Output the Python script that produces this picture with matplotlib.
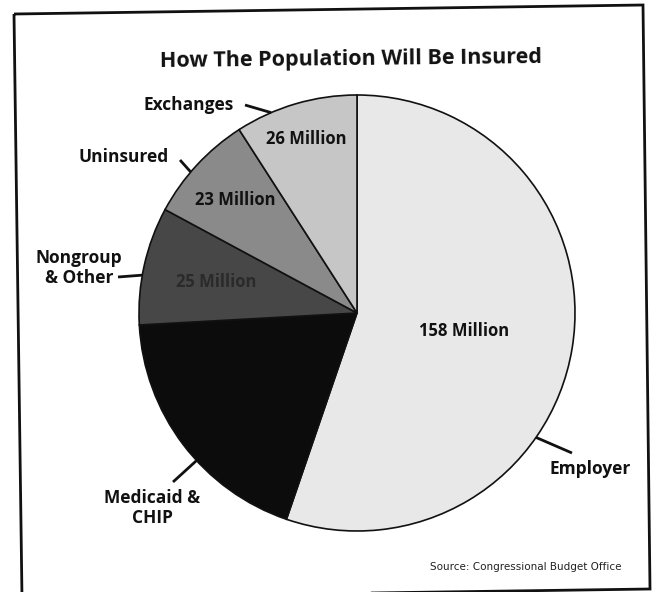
import numpy as np
import matplotlib.pyplot as plt
from matplotlib.patches import Polygon

# CBO coverage projection, millions of people
categories = ["Employer", "Medicaid &\nCHIP", "Nongroup\n& Other", "Uninsured", "Exchanges"]
millions = [158, 54, 25, 23, 26]
value_labels = ["158 Million", "", "25 Million", "23 Million", "26 Million"]
colors = ["#e8e8e8", "#0c0c0c", "#474747", "#8a8a8a", "#c6c6c6"]
text_colors = ["#111111", "#111111", "#2a2a2a", "#111111", "#111111"]

W, H = 652, 592
fig = plt.figure(figsize=(W / 100, H / 100), dpi=100)
ax = fig.add_axes([0, 0, 1, 1])


def top(y):
    # pixel rows are counted from the top
    return H - y


cx, cy, r = 357, top(313), 218
wedges, _ = ax.pie(millions, colors=colors, startangle=90, counterclock=False,
                   center=(cx, cy), radius=r, frame=True,
                   wedgeprops=dict(edgecolor="#111111", linewidth=1.2))
ax.set_xlim(0, W)
ax.set_ylim(0, H)
ax.axis("off")

font = "Open Sans"

# value labels inside the slices
label_dist = [0.50, 0.6, 0.66, 0.76, 0.83]
for w, txt, d, tc in zip(wedges, value_labels, label_dist, text_colors):
    if not txt:
        continue
    mid = np.deg2rad((w.theta1 + w.theta2) / 2)
    ax.text(cx + d * r * np.cos(mid), cy + d * r * np.sin(mid), txt,
            ha="center", va="center", fontsize=12, fontweight="bold",
            family=font, color=tc)

# category names with short leader lines to the rim
rim_angle = [-34.8, -137.4, 170.0, 139.7, 113.2]
text_pos = [(590, 469), (152, 508), (79, 268), (124, 157), (189, 105)]
line_end = [(572, 453), (173, 482), (118, 277), (180, 160), (245, 105)]
for name, a, (tx, ty), (lx, ly) in zip(categories, rim_angle, text_pos, line_end):
    t = np.deg2rad(a)
    ax.plot([cx + r * np.cos(t), lx], [cy + r * np.sin(t), top(ly)],
            color="#111111", lw=2, solid_capstyle="butt")
    ax.text(tx, top(ty), name, ha="center", va="center", fontsize=12.5,
            fontweight="bold", family=font, color="#111111", linespacing=1.1)

ax.text(351, top(60), "How The Population Will Be Insured", ha="center",
        va="center", fontsize=15.5, family=font, fontweight="bold",
        color="#111111", rotation=0.6)
ax.text(526, top(567), "Source: Congressional Budget Office", ha="center",
        va="center", fontsize=7.5, family="DejaVu Sans", color="#222222")

# outer border, slightly skewed
frame = Polygon([(14, top(14)), (643, top(5)), (650, top(589)), (22, top(598))],
                closed=True, fill=False, edgecolor="#111111", lw=2, clip_on=False)
ax.add_patch(frame)

fig.savefig("out.png", dpi=100, facecolor="white")
